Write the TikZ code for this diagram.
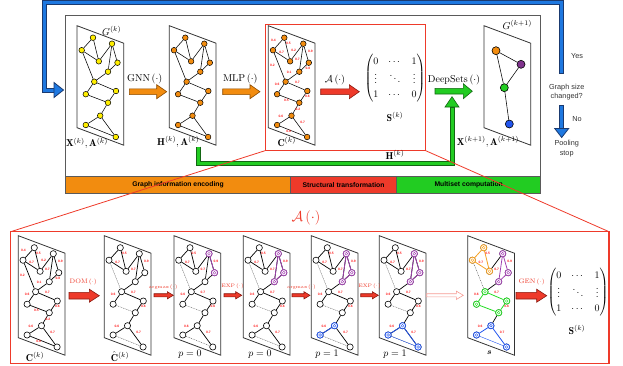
\documentclass[tikz,border=0pt]{standalone}
\usepackage{amsmath}
\usepackage{fontspec}
\newfontfamily\hv{Liberation Sans}
\definecolor{gor}{HTML}{F28C0F}
\definecolor{gorD}{HTML}{8A4A00}
\definecolor{gye}{HTML}{FFEE00}
\definecolor{gre}{HTML}{EE3A2A}
\definecolor{greD}{HTML}{8A1A10}
\definecolor{ggr}{HTML}{22CC22}
\definecolor{ggrD}{HTML}{136613}
\definecolor{gbl}{HTML}{1E78E0}
\definecolor{gblD}{HTML}{1A3A70}
\definecolor{gpu}{HTML}{A040B0}
\definecolor{gbn}{HTML}{2255EE}
\definecolor{gsor}{HTML}{F5A020}
\definecolor{gsgr}{HTML}{22DD22}
\definecolor{gbox}{HTML}{5A5A5A}
\definecolor{lblred}{HTML}{FF2020}
% horizontal fat arrow: x1, x2, y, body half, head half, head length, style
\newcommand{\harrow}[7]{\draw[#7] (#1,#3-#4) -- (#2-#6,#3-#4) -- (#2-#6,#3-#5) -- (#2,#3) -- (#2-#6,#3+#5) -- (#2-#6,#3+#4) -- (#1,#3+#4) -- cycle;}
\newcommand{\gpara}[2]{\draw[para] (#1,#2) -- ++(46.7,17.5) -- ++(0,102) -- ++(-46.7,-17.5) -- cycle;}
\newcommand{\gnodes}[4]{\foreach \i/\a/\b in {1/16/12, 2/4.7/24.5, 3/35/18, 4/21.8/35.6, 5/40.5/37, 6/31/46, 7/17.3/56, 8/8.8/68.5, 9/39/65.3, 10/31/77, 11/23.2/90, 12/8.8/99.3, 13/38.8/111.3}
  {\node[#4] (#1n\i) at (#2+\a,#3+\b) {};}}
\newcommand{\gedgesall}[2]{\foreach \u/\v in {1/2,1/4,2/4,3/4,3/6,3/5,5/6,2/7,6/7,7/8,7/9,8/10,9/10,10/11,11/12,11/13,12/13}
  {\draw[#2] (#1n\u) -- (#1n\v);}}
\newcommand{\gedgesdom}[1]{\foreach \u/\v in {1/2,1/4,2/4,3/4,3/6,3/5,5/6,6/7,7/8,7/9,9/10,10/11,11/12,11/13}
  {\draw[bedge] (#1n\u) -- (#1n\v);}
  \foreach \u/\v in {2/7,8/10,12/13} {\draw[dedge] (#1n\u) -- (#1n\v);}}
\newcommand{\glabsall}[2]{\foreach \a/\b/\t in {5/15/0.4, 20/17.5/0.5, 13.3/26.3/0.7, 25.4/24.5/0.2, 29/33.3/0.7, 42/25.5/0.9, 39.5/42.5/0.8, 4.2/39.3/0.2, 20.8/46.7/0.1, 8.8/58.8/0.6, 29/56.2/0.7, 39/70.8/0.6, 18/75/0.5, 29.5/83.3/0.2, 12.5/90.7/0.6, 34.4/97/0.7, 20.4/106/0.8}
  {\node[elab] at (#1+\a,#2+\b) {\t};}}
\newcommand{\glabskept}[2]{\foreach \a/\b/\t in {20/17.5/0.5, 13.3/26.3/0.7, 29/33.3/0.7, 42/25.5/0.9, 8.8/58.8/0.6, 29/56.2/0.7, 39/70.8/0.6, 12.5/90.7/0.6, 34.4/97/0.7}
  {\node[elab] at (#1+\a,#2+\b) {\t};}}
\newcommand{\cedge}[4]{\draw[cedg=#2] (#1n#3) -- (#1n#4);}
\newcommand{\cnd}[3]{\node[cnode=#2] at (#1n#3) {};}
\begin{document}
\begin{tikzpicture}[x=1pt,y=-1pt,
  para/.style={draw=black!80, line width=0.8pt},
  tnode/.style={circle, draw=black, line width=0.5pt, minimum size=5.6pt, inner sep=0pt},
  bnode/.style={circle, draw=black, line width=0.6pt, fill=white, minimum size=6.2pt, inner sep=0pt},
  gnode/.style={circle, draw=black, line width=0.6pt, minimum size=8pt, inner sep=0pt, fill=#1},
  tedge/.style={line width=0.55pt},
  bedge/.style={line width=0.7pt},
  dedge/.style={line width=0.35pt, dash pattern=on 1pt off 0.8pt, black!70},
  cedg/.style={line width=0.8pt, draw=#1},
  cnode/.style={circle, draw=#1, line width=0.8pt, fill=white, minimum size=6.2pt, inner sep=0pt,
     path picture={\draw[#1, line width=0.4pt] (path picture bounding box.center) circle (1.4pt);}},
  elab/.style={text=lblred, font=\hv\bfseries\fontsize{3.3}{3.5}\selectfont, inner sep=0pt},
  lab/.style={font=\fontsize{10}{12}\selectfont, inner sep=0pt},
  side/.style={font=\hv\fontsize{7.3}{8.5}\selectfont, text=black!80, inner sep=0pt},
  band/.style={font=\hv\bfseries\fontsize{6.8}{8}\selectfont, inner sep=0pt},
  oarrow/.style={fill=gor, draw=gorD, line width=0.6pt},
  rarrow/.style={fill=gre, draw=greD, line width=0.6pt},
  garrow/.style={fill=ggr, draw=ggrD, line width=0.6pt},
  rlab/.style={text=gre, inner sep=0pt}
]
\useasboundingbox (0,0) rectangle (623,365);

% ---------- blue feedback loop ----------
\draw[gblD, line width=5pt] (561.5,74) -- (561.5,2.3) -- (44.5,2.3) -- (44.5,90) -- (55,90);
\draw[gbl, line width=3pt] (561.5,73.2) -- (561.5,2.3) -- (44.5,2.3) -- (44.5,90) -- (55.5,90);
\draw[fill=gbl, draw=gblD, line width=0.8pt] (54,82.5) -- (63.5,90) -- (54,97.5) -- cycle;
\draw[gblD, line width=5pt] (561.7,105) -- (561.7,129);
\draw[gbl, line width=3pt] (561.7,105.8) -- (561.7,129.5);
\draw[fill=gbl, draw=gblD, line width=0.8pt] (554.7,128.5) -- (561.7,137.5) -- (568.7,128.5) -- cycle;
\node[side] at (577,56) {Yes};
\node[side] at (566.7,87.7) {Graph size};
\node[side] at (566.7,96.7) {changed?};
\node[side] at (577,119) {No};
\node[side] at (566.7,144) {Pooling};
\node[side] at (566.7,154) {stop};

% ---------- main box and bands ----------
\draw[gbox, line width=0.9pt] (65.7,15) rectangle (540.7,193.3);
\draw[fill=gor, draw=gbox, line width=0.6pt] (65.7,176.7) rectangle (290.3,193.3);
\draw[fill=gre, draw=gbox, line width=0.6pt] (290.3,176.7) rectangle (396.7,193.3);
\draw[fill=ggr, draw=gbox, line width=0.6pt] (396.7,176.7) rectangle (540.7,193.3);
\draw[gbox, line width=0.9pt] (65.7,15) rectangle (540.7,193.3);
\node[band] at (178,185) {Graph information encoding};
\node[band] at (343.5,185) {Structural transformation};
\node[band] at (468.7,185) {Multiset computation};

% ---------- top graphs ----------
\gpara{77}{25.7}
\gnodes{Ta}{77}{25.7}{tnode, fill=gye}
\gedgesall{Ta}{tedge}
\node[lab] at (111.7,30.7) {$G^{(k)}$};
\node[lab] at (87,143.3) {$\mathbf{X}^{(k)},\mathbf{A}^{(k)}$};

\gpara{169.3}{25.7}
\gnodes{Tb}{169.3}{25.7}{tnode, fill=gor}
\gedgesall{Tb}{tedge}
\node[lab] at (178.3,141.7) {$\mathbf{H}^{(k)},\mathbf{A}^{(k)}$};

\draw[gre, line width=0.8pt] (265,24) rectangle (425.7,150.7);
\gpara{268.3}{25.7}
\gnodes{Tc}{268.3}{25.7}{tnode, fill=gor}
\gedgesall{Tc}{tedge}
\glabsall{268.3}{25.7}
\node[lab] at (286.7,141.7) {$\mathbf{C}^{(k)}$};

\harrow{129.3}{166.7}{91.7}{2.9}{7}{10}{oarrow}
\node[lab] at (144.7,79.3) {GNN\,$(\cdot)$};
\harrow{222.7}{260}{91.7}{2.9}{7}{10}{oarrow}
\node[lab] at (240.3,79.3) {MLP\,$(\cdot)$};
\harrow{320.7}{359.3}{91.7}{2.9}{7}{10}{rarrow}
\node[lab] at (335,80) {$\mathcal{A}\,(\cdot)$};

\node[lab] at (395,78.5) {\renewcommand{\arraystretch}{1.15}$\begin{pmatrix}0&\cdots&1\\ \vdots&\ddots&\vdots\\ 1&\cdots&0\end{pmatrix}$};
\node[lab] at (395,116.7) {$\mathbf{S}^{(k)}$};
\node[lab] at (395,155) {$\mathbf{H}^{(k)}$};

% green L arrow
\draw[ggrD, line width=5pt] (198,146.5) -- (198,163.3) -- (452,163.3) -- (452,107);
\draw[ggr, line width=3pt] (198,147.3) -- (198,163.3) -- (452,163.3) -- (452,107.5);
\draw[garrow] (445,107) -- (452,96.7) -- (459,107) -- cycle;
\harrow{435}{472.3}{91.2}{2.8}{7.5}{9}{garrow}
\node[lab] at (454,80) {DeepSets\,$(\cdot)$};

% next-level graph
\gpara{484}{25.7}
\node[gnode=gor] (ga) at (496,50.7) {};
\node[gnode=gpu!80!black] (gb) at (521,64.3) {};
\node[gnode=ggr] (gc) at (504.3,87.7) {};
\node[gnode=gbn] (gd) at (509.3,124) {};
\draw[tedge] (ga) -- (gb);
\draw[tedge] (ga) -- (gc);
\draw[tedge] (gb) -- (gc);
\draw[tedge] (gc) -- (gd);
\node[lab] at (517.3,25) {$G^{(k+1)}$};
\node[lab] at (488,141.7) {$\mathbf{X}^{(k+1)},\mathbf{A}^{(k+1)}$};

% ---------- bottom panel ----------
\draw[gre, line width=1.2pt] (10.7,231.7) rectangle (609,363.3);
\node[rlab, font=\fontsize{14}{16}\selectfont] at (306,217.7) {$\mathcal{A}\,(\cdot)$};

% B1: C
\gpara{18.3}{235.7}
\gnodes{Ba}{18.3}{235.7}{bnode}
\gedgesall{Ba}{bedge}
\glabsall{18.3}{235.7}
\node[lab] at (35,356.7) {$\mathbf{C}^{(k)}$};

% B2: C hat
\gpara{104.3}{235.7}
\gnodes{Bb}{104.3}{235.7}{bnode}
\gedgesdom{Bb}
\glabskept{104.3}{235.7}
\node[lab] at (120,356.7) {$\hat{\mathbf{C}}^{(k)}$};

% B3: p=0
\gpara{174}{235.7}
\gnodes{Bc}{174}{235.7}{bnode}
\gedgesdom{Bc}
\glabskept{174}{235.7}
\cedge{Bc}{gpu}{3}{5}
\cnd{Bc}{gpu}{3}\cnd{Bc}{gpu}{5}
\node[lab] at (190,354) {$p=0$};

% B4: p=0
\gpara{243.3}{235.7}
\gnodes{Bd}{243.3}{235.7}{bnode}
\gedgesdom{Bd}
\glabskept{243.3}{235.7}
\cedge{Bd}{gpu}{3}{5}\cedge{Bd}{gpu}{3}{6}\cedge{Bd}{gpu}{5}{6}
\cnd{Bd}{gpu}{3}\cnd{Bd}{gpu}{5}\cnd{Bd}{gpu}{6}
\node[lab] at (260,354) {$p=0$};

% B5: p=1
\gpara{311.3}{235.7}
\gnodes{Be}{311.3}{235.7}{bnode}
\gedgesdom{Be}
\glabskept{311.3}{235.7}
\cedge{Be}{gpu}{3}{5}\cedge{Be}{gpu}{3}{6}\cedge{Be}{gpu}{5}{6}
\cedge{Be}{gbn}{11}{12}
\cnd{Be}{gpu}{3}\cnd{Be}{gpu}{5}\cnd{Be}{gpu}{6}
\cnd{Be}{gbn}{11}\cnd{Be}{gbn}{12}
\node[lab] at (327,354) {$p=1$};

% B6: p=1
\gpara{379.3}{235.7}
\gnodes{Bf}{379.3}{235.7}{bnode}
\gedgesdom{Bf}
\glabskept{379.3}{235.7}
\cedge{Bf}{gpu}{3}{5}\cedge{Bf}{gpu}{3}{6}\cedge{Bf}{gpu}{5}{6}
\cedge{Bf}{gbn}{11}{12}\cedge{Bf}{gbn}{11}{13}
\draw[gbn, line width=0.4pt] (Bfn12) -- (Bfn13);
\cnd{Bf}{gpu}{3}\cnd{Bf}{gpu}{5}\cnd{Bf}{gpu}{6}
\cnd{Bf}{gbn}{11}\cnd{Bf}{gbn}{12}\cnd{Bf}{gbn}{13}
\node[lab] at (395,354) {$p=1$};

% B7: s
\gpara{467.7}{235.7}
\gnodes{Bg}{467.7}{235.7}{bnode}
\draw[bedge] (Bgn3) -- (Bgn4);
\draw[bedge] (Bgn6) -- (Bgn7);
\draw[bedge] (Bgn10) -- (Bgn11);
\draw[dedge] (Bgn2) -- (Bgn7);
\cedge{Bg}{gsor}{1}{2}\cedge{Bg}{gsor}{1}{4}\cedge{Bg}{gsor}{2}{4}
\cedge{Bg}{gpu}{3}{5}\cedge{Bg}{gpu}{3}{6}\cedge{Bg}{gpu}{5}{6}
\cedge{Bg}{gsgr}{7}{8}\cedge{Bg}{gsgr}{7}{9}\cedge{Bg}{gsgr}{9}{10}\cedge{Bg}{gsgr}{8}{10}
\cedge{Bg}{gbn}{11}{12}\cedge{Bg}{gbn}{11}{13}
\draw[gbn, line width=0.4pt] (Bgn12) -- (Bgn13);
\glabskept{467.7}{235.7}
\cnd{Bg}{gsor}{1}\cnd{Bg}{gsor}{2}\cnd{Bg}{gsor}{4}
\cnd{Bg}{gpu}{3}\cnd{Bg}{gpu}{5}\cnd{Bg}{gpu}{6}
\cnd{Bg}{gsgr}{7}\cnd{Bg}{gsgr}{8}\cnd{Bg}{gsgr}{9}\cnd{Bg}{gsgr}{10}
\cnd{Bg}{gbn}{11}\cnd{Bg}{gbn}{12}\cnd{Bg}{gbn}{13}
\node[inner sep=0pt, font=\fontsize{8}{9}\selectfont] at (489.3,353) {$\boldsymbol{s}$};

% bottom arrows
\harrow{69}{99.3}{295.7}{3.3}{6.5}{10}{rarrow}
\node[rlab, font=\fontsize{6.5}{7.5}\selectfont] at (83.3,282.3) {DOM\,$(\cdot)$};
\harrow{154}{173.3}{295.3}{1.6}{3.6}{6}{rarrow}
\node[rlab, font=\fontsize{4.6}{5.5}\selectfont] at (163.3,287) {argmax\,$(\cdot)$};
\harrow{224}{241.7}{295.3}{1.6}{3.6}{6}{rarrow}
\node[rlab, font=\fontsize{5}{6}\selectfont] at (232.5,286.5) {EXP\,$(\cdot)$};
\harrow{292}{310}{295.3}{1.6}{3.6}{6}{rarrow}
\node[rlab, font=\fontsize{4.6}{5.5}\selectfont] at (301.5,287) {argmax\,$(\cdot)$};
\harrow{360.7}{378.3}{295.3}{1.6}{3.6}{6}{rarrow}
\node[rlab, font=\fontsize{5}{6}\selectfont] at (369.5,286.5) {EXP\,$(\cdot)$};
\harrow{426.7}{463.3}{295.3}{1.6}{4.2}{7}{draw=gre!50, fill=white, line width=0.6pt}
\harrow{516}{546.7}{295.7}{3.3}{6.5}{10}{rarrow}
\node[rlab, font=\fontsize{6.4}{7.5}\selectfont] at (531.7,282.3) {GEN\,$(\cdot)$};

\node[lab] at (578,292) {\renewcommand{\arraystretch}{1.15}$\begin{pmatrix}0&\cdots&1\\ \vdots&\ddots&\vdots\\ 1&\cdots&0\end{pmatrix}$};
\node[lab] at (577,330) {$\mathbf{S}^{(k)}$};

% zoom lines
\draw[gre, line width=0.8pt] (265,150.7) -- (10.7,231.7);
\draw[gre, line width=0.8pt] (425.7,150.7) -- (609,231.7);
\end{tikzpicture}
\end{document}
